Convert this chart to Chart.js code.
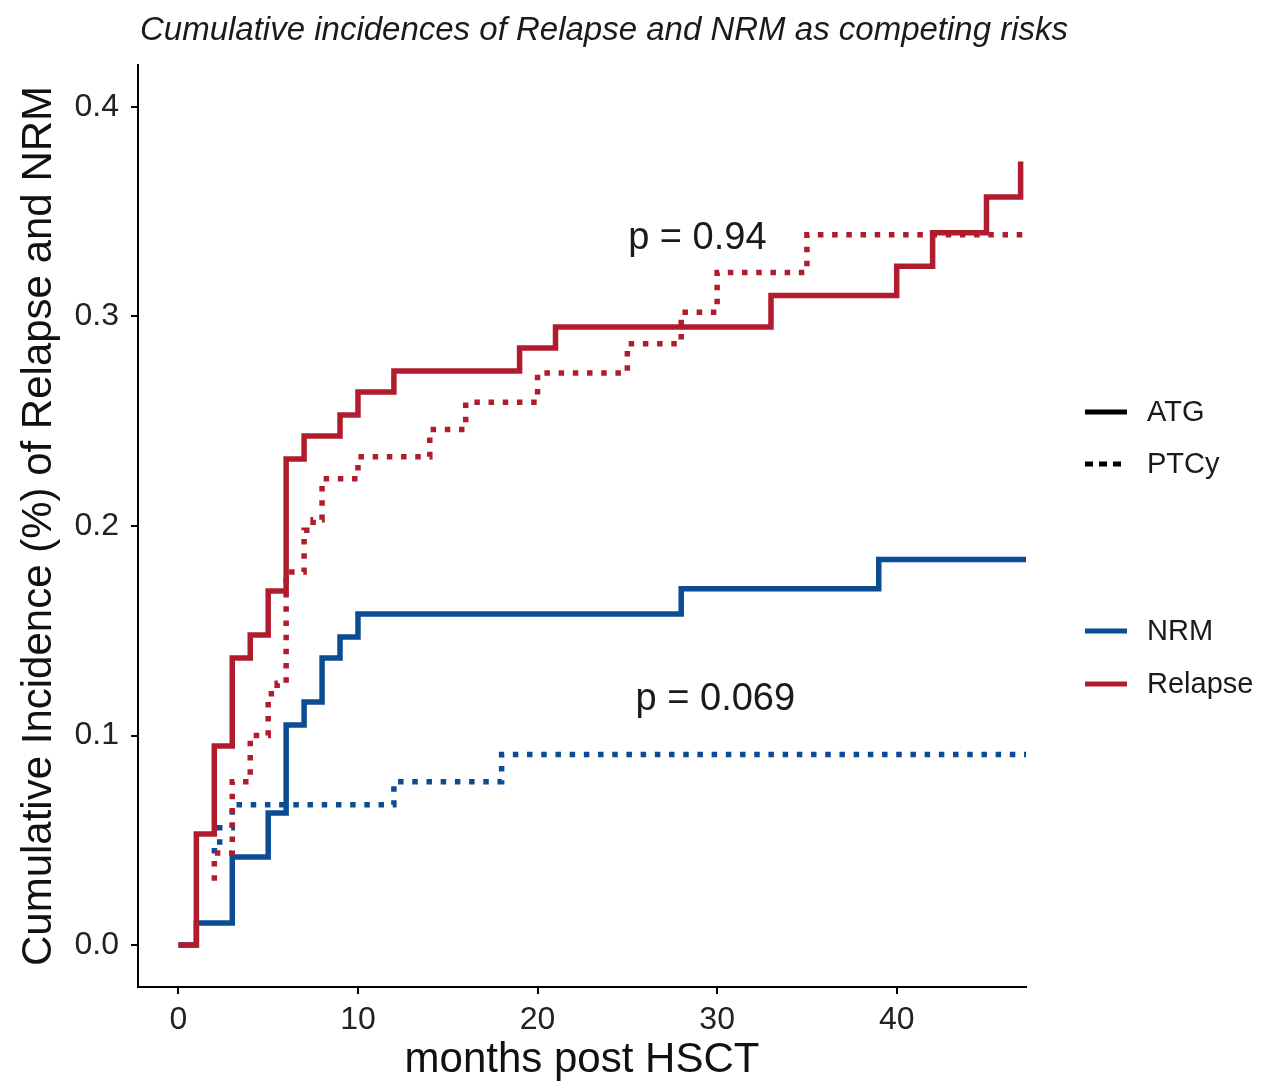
<!DOCTYPE html>
<html>
<head>
<meta charset="utf-8">
<title>Cumulative incidences of Relapse and NRM</title>
<script src="https://cdn.jsdelivr.net/npm/chart.js@4.4.1/dist/chart.umd.min.js"></script>
<style>
  html, body { margin: 0; padding: 0; background: #fff; }
  #wrap { width: 1284px; height: 1086px; position: relative; }
</style>
</head>
<body>
<div id="wrap"><canvas id="cif"></canvas></div>
<script>
// Event times (months post HSCT) and cumulative incidence at each step
const relapseAtgTimes  = [0, 1, 2, 3, 4, 5, 6, 7, 9, 10, 12, 19, 21, 33, 40, 42, 45, 46.9];
const relapseAtgCif    = [0, 0.053, 0.095, 0.137, 0.148, 0.169, 0.232, 0.243, 0.253, 0.264, 0.274, 0.285, 0.295, 0.310, 0.324, 0.340, 0.357, 0.374];

const relapsePtcyTimes = [1.85, 2, 3, 4, 5, 5.5, 6, 7, 7.5, 8, 10, 14, 16, 20, 25, 28, 30, 35, 47.2];
const relapsePtcyCif   = [0.032, 0.044, 0.078, 0.100, 0.120, 0.125, 0.178, 0.198, 0.203, 0.2225, 0.233, 0.246, 0.259, 0.273, 0.287, 0.302, 0.321, 0.339, 0.339];

const nrmAtgTimes      = [0, 1, 3, 5, 6, 7, 8, 9, 10, 28, 39, 47.2];
const nrmAtgCif        = [0, 0.0105, 0.042, 0.063, 0.105, 0.116, 0.137, 0.147, 0.158, 0.170, 0.184, 0.184];

const nrmPtcyTimes     = [1.85, 2.3, 3, 12, 18, 47.2];
const nrmPtcyCif       = [0.045, 0.056, 0.067, 0.078, 0.091, 0.091];

const xTicks = [0, 10, 20, 30, 40];
const yTicks = [0, 0.1, 0.2, 0.3, 0.4];

const pTexts = ['p = 0.94', 'p = 0.069'];
const groupNames = ['ATG', 'PTCy'];
const eventNames = ['NRM', 'Relapse'];

const RED = '#B01C2E';
const BLUE = '#0B4C92';
const FONT = '"Liberation Sans", Arial, sans-serif';
const DOTS = [5.5, 8.7];

function toPoints(times, vals) {
  return times.map((t, i) => ({ x: t, y: vals[i] }));
}

function stepSet(label, times, vals, color, dotted, order) {
  return {
    label: label,
    data: toPoints(times, vals),
    borderColor: color,
    borderWidth: 5.5,
    borderDash: dotted ? DOTS : [],
    borderCapStyle: 'butt',
    borderJoinStyle: 'miter',
    stepped: 'before',
    pointRadius: 0,
    fill: false,
    order: order
  };
}

// p-values, legend and title drawn on top of the plot
const overlay = {
  id: 'overlay',
  afterDraw(chart) {
    const { ctx, scales: { x, y } } = chart;
    ctx.save();
    ctx.fillStyle = '#1a1a1a';

    // title
    ctx.font = 'italic 33px ' + FONT;
    ctx.textAlign = 'center';
    ctx.textBaseline = 'alphabetic';
    ctx.fillText('Cumulative incidences of Relapse and NRM as competing risks', 604, 40);

    // p-values of the group comparison
    ctx.font = '38px ' + FONT;
    ctx.fillText(pTexts[0], x.getPixelForValue(28.9), y.getPixelForValue(0.332));
    ctx.fillText(pTexts[1], x.getPixelForValue(29.9), y.getPixelForValue(0.112));

    // legend: line type = group, colour = event
    ctx.font = '29px ' + FONT;
    ctx.textAlign = 'left';
    ctx.textBaseline = 'middle';
    const rows = [
      { text: groupNames[0], color: '#000', dash: [], y: 412 },
      { text: groupNames[1], color: '#000', dash: [8, 6], y: 464 },
      { text: eventNames[0], color: BLUE, dash: [], y: 631 },
      { text: eventNames[1], color: RED, dash: [], y: 684 }
    ];
    rows.forEach(r => {
      ctx.beginPath();
      ctx.setLineDash(r.dash);
      ctx.lineWidth = 5;
      ctx.lineCap = 'butt';
      ctx.strokeStyle = r.color;
      ctx.moveTo(1085, r.y);
      ctx.lineTo(1127, r.y);
      ctx.stroke();
      ctx.setLineDash([]);
      ctx.fillText(r.text, 1147, r.y + 1);
    });
    ctx.restore();
  }
};

new Chart(document.getElementById('cif'), {
  type: 'line',
  data: {
    datasets: [
      stepSet('Relapse ATG', relapseAtgTimes, relapseAtgCif, RED, false, 1),
      stepSet('Relapse PTCy', relapsePtcyTimes, relapsePtcyCif, RED, true, 0),
      stepSet('NRM ATG', nrmAtgTimes, nrmAtgCif, BLUE, false, 3),
      stepSet('NRM PTCy', nrmPtcyTimes, nrmPtcyCif, BLUE, true, 2)
    ]
  },
  options: {
    responsive: true,
    maintainAspectRatio: false,
    animation: false,
    layout: { padding: { left: 0, right: 258, top: 65, bottom: 0 } },
    plugins: {
      legend: { display: false },
      tooltip: { enabled: false }
    },
    scales: {
      x: {
        type: 'linear',
        min: -2.25,
        max: 47.2,
        afterBuildTicks: s => { s.ticks = xTicks.map(v => ({ value: v })); },
        afterFit: s => { s.height = 99; },
        grid: { drawOnChartArea: false, drawTicks: true, tickLength: 7, color: '#000', lineWidth: 2 },
        border: { display: true, color: '#000', width: 2 },
        ticks: { color: '#222', font: { family: FONT, size: 32 }, padding: 7, maxRotation: 0 },
        title: { display: true, text: 'months post HSCT', color: '#111', font: { family: FONT, size: 42 }, padding: 0 }
      },
      y: {
        type: 'linear',
        min: -0.02,
        max: 0.42,
        afterBuildTicks: s => { s.ticks = yTicks.map(v => ({ value: v })); },
        afterFit: s => { s.width = 138; },
        grid: { drawOnChartArea: false, drawTicks: true, tickLength: 7, color: '#000', lineWidth: 2 },
        border: { display: true, color: '#000', width: 2 },
        ticks: { color: '#222', font: { family: FONT, size: 32 }, padding: 12, callback: v => v.toFixed(1) },
        title: { display: true, text: 'Cumulative Incidence (%) of Relapse and NRM', color: '#111', font: { family: FONT, size: 42 }, padding: { top: 14, bottom: 0 } }
      }
    }
  },
  plugins: [overlay]
});
</script>
</body>
</html>
